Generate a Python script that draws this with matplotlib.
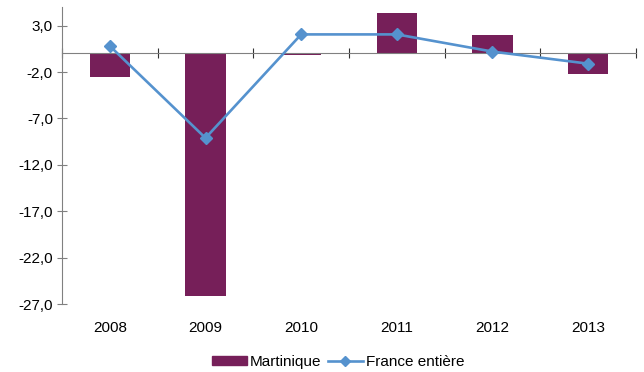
import matplotlib.pyplot as plt
import numpy as np
from matplotlib.patches import Patch
from matplotlib.lines import Line2D
from matplotlib.ticker import FuncFormatter

plt.rcParams['font.family'] = ['Liberation Sans', 'DejaVu Sans']
plt.rcParams['font.size'] = 11

years = ["2008", "2009", "2010", "2011", "2012", "2013"]
martinique = [-2.5, -26.1, -0.15, 4.4, 2.0, -2.2]
france = [0.8, -9.1, 2.05, 2.05, 0.2, -1.1]

bar_color = "#761F59"
line_color = "#5592CE"
axis_color = "#808080"

fig = plt.figure(figsize=(6.44, 3.72), dpi=100)
ax = fig.add_axes([62 / 644, 1 - 304.3 / 372, 574 / 644, 297.3 / 372])

x = np.arange(len(years))
ax.bar(x, martinique, width=0.42, color=bar_color, zorder=2)
ax.plot(x, france, color=line_color, lw=1.9, marker="D", ms=6, zorder=3)

ax.set_xlim(-0.5, len(years) - 0.5)
ax.set_ylim(-27, 5)
ax.set_yticks(np.arange(-27, 4, 5))
ax.yaxis.set_major_formatter(FuncFormatter(lambda v, p: f"{v:.1f}".replace(".", ",")))

for s in ["top", "right"]:
    ax.spines[s].set_visible(False)
ax.spines["left"].set_color(axis_color)
ax.spines["bottom"].set_color(axis_color)
ax.spines["bottom"].set_position(("data", 0))

# category boundaries as ticks on the zero line, year labels under the plot
ax.set_xticks(np.arange(-0.5, len(years), 1.0))
ax.set_xticklabels([])
ax.tick_params(axis="x", direction="inout", length=7, color="#333333")
ax.tick_params(axis="y", direction="inout", length=7, color=axis_color, pad=3)
for xi, lab in zip(x, years):
    ax.text(xi, -0.08, lab, transform=ax.get_xaxis_transform(),
            ha="center", va="center")

handles = [Patch(color=bar_color, label="Martinique"),
           Line2D([], [], color=line_color, lw=1.9, marker="D", ms=5,
                  label="France entière")]
fig.legend(handles=handles, loc="center", bbox_to_anchor=(0.525, 1 - 362 / 372),
           ncol=2, frameon=False, handlelength=2.3, handleheight=0.6,
           handletextpad=0.2, columnspacing=0.4, borderpad=0)

fig.savefig("out.png", dpi=100)
